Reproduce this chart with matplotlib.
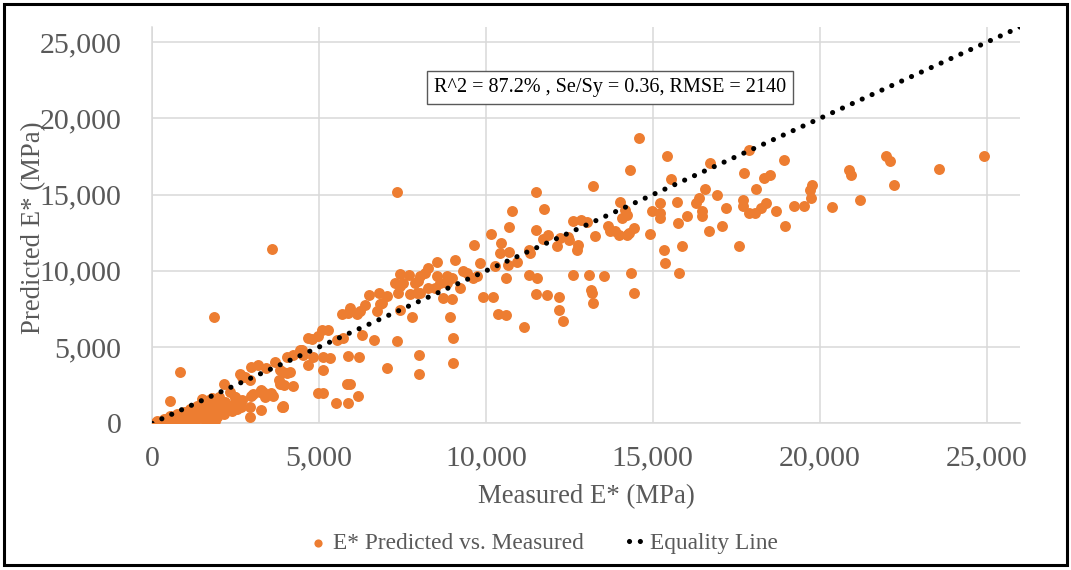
import matplotlib
matplotlib.use("Agg")
import matplotlib.pyplot as plt
from matplotlib.ticker import FuncFormatter
from matplotlib.patches import Rectangle

# Measured vs predicted dynamic modulus E* (MPa)
measured_low = [
    100, 200, 300, 400, 500, 600, 700, 800, 900, 1000, 1100, 1200, 1300, 1400,
    1500, 1600, 1700, 1800, 1900, 2000, 2100, 150, 350, 550, 750, 950, 1150,
    1350, 1550, 1450, 1250, 1050, 850, 650, 450, 1600, 1700, 1800, 1900, 1750,
    1650, 1850, 1950, 2050, 1550, 1450, 1350, 1250, 1150, 1050, 950, 850, 750,
    1700, 1600, 1500, 1800, 2000, 2100, 2150, 1950, 1900,
    530, 850, 1850,
    2240, 2390, 2190, 2400, 2550, 2930, 2930, 3280, 3330, 3630, 3880, 2980,
    2700, 2500, 2340, 2490, 2630, 2680, 3030, 3230, 3380, 3580, 3930, 2150,
    2630, 2780, 2930, 2710, 2960, 3180, 3410, 3680, 3830, 4030, 4230, 4030,
    4130, 3950, 4230, 3810, 3280, 3580, 3910, 3930, 3830,
]
predicted_low = [
    50, 80, 120, 150, 200, 250, 300, 350, 380, 450, 500, 600, 650, 700,
    800, 900, 1000, 1100, 1200, 1300, 1400, 180, 300, 450, 600, 750, 950,
    1150, 1350, 1050, 850, 650, 500, 380, 250, 200, 400, 300, 600, 700,
    500, 900, 800, 1000, 600, 400, 300, 200, 300, 150, 100, 150, 100,
    1500, 1300, 1600, 1650, 1700, 800, 600, 400, 150,
    1490, 3370, 6960,
    1050, 830, 1380, 1200, 950, 440, 1100, 875, 2040, 1820, 1100, 1820,
    1500, 1700, 2040, 1710, 1490, 1050, 1930, 2040, 1710, 1930, 1100, 2580,
    3250, 3030, 2850, 3060, 3720, 3810, 3610, 4030, 3500, 4380, 4490, 3280,
    3390, 2520, 2470, 2840, 2190, 1970, 1160, 3360, 2590,
]

measured_mid = [
    9650, 9080, 8550, 8280, 8180, 8030, 7980, 7880, 7430, 7710, 7280, 7430,
    7530, 7380, 7730, 7930, 8030, 8530, 8630, 8830, 8980, 8830, 8280, 8480,
    8730, 8980, 9330, 9430, 9730, 9230, 9630, 6510, 6810, 6880, 7030, 6830,
    6730, 6380, 5930, 5880, 5680, 6130, 6230, 5080, 5280, 4980, 4680, 5530,
    5730, 6280, 6650, 7330, 7800, 8930, 9030, 4430, 4530, 4830, 5130, 5330,
    4680, 5130, 5860, 6210, 7030, 8010, 8010, 9010, 5830, 5930, 4980, 5130,
    5510, 5860, 6180, 7430, 7330, 3600, 4500, 4800,
]
predicted_mid = [
    11700, 10730, 10550, 10220, 9890, 9670, 9340, 9230, 9780, 9710, 9230, 9010,
    9230, 8570, 8500, 8530, 8570, 9670, 9230, 9670, 9560, 9230, 8900, 8900,
    8240, 8130, 10000, 9890, 9670, 8900, 9560, 8390, 8570, 7910, 8350, 7800,
    7360, 7730, 7580, 7250, 7140, 7140, 7360, 6140, 6140, 5700, 5590, 5480,
    5590, 5810, 5480, 5420, 6980, 6980, 5590, 4820, 4490, 4380, 4380, 4270,
    3830, 3500, 4430, 4380, 3610, 4490, 3240, 3940, 2550, 2550, 1960, 1960,
    1360, 1300, 1800, 7400, 15200, 11430, 4810, 5500,
]

measured_high = [
    14320, 13200, 11490, 10790, 11750, 10700, 10140, 9820, 10440, 10420, 10690,
    10920, 10670, 10270, 10600, 11300, 11320, 11500, 11720, 11870, 12120, 12220,
    12470, 12500, 12620, 12850, 13020, 12770, 12740, 13270, 13670, 13720, 13870,
    14000, 14220, 14300, 14440, 14020, 14170, 14070, 14220, 11300, 11540, 12600,
    13100, 13550, 14350, 9920, 10220, 11500, 11820, 12190, 13150, 13190, 13200,
    14440, 10370, 10600, 12200, 12300, 11140,
    14600, 15420, 16700, 17880, 15550, 18930, 17730, 18320, 18520, 16550, 18080,
    16920, 19700, 19770, 19730, 20880, 20930, 22000, 22100, 22220, 23580, 24930,
    21220, 20380, 19530, 19220, 18680, 18400, 18230, 18050, 17880, 17700, 17700,
    17200, 16280, 16380, 16470, 16470, 16020, 15730, 15230, 15230, 15230, 14980,
    15770, 14920, 16680, 17060, 18960, 17580, 15330, 15380, 15870, 15780,
]
predicted_high = [
    16600, 15590, 15180, 13900, 14080, 12870, 12430, 10500, 11860, 11200, 11260,
    10550, 10400, 10290, 9520, 11400, 11140, 12650, 12060, 12370, 11600, 12150,
    12210, 12040, 13250, 13310, 13180, 11710, 11380, 12300, 12920, 12630, 12590,
    12370, 12370, 12480, 12810, 14520, 14020, 13460, 13680, 9700, 9520, 9740,
    9740, 9670, 9890, 8310, 8310, 8460, 8420, 8310, 8750, 8530, 7870,
    8570, 7170, 7130, 7430, 6730, 6340,
    18700, 17510, 17050, 17950, 16060, 17290, 16390, 16120, 16280, 15350, 15350,
    14980, 15310, 15620, 14760, 16630, 16300, 17560, 17230, 15640, 16670, 17560,
    14630, 14180, 14250, 14250, 13900, 14470, 14140, 13810, 13810, 14250, 14630,
    14140, 14470, 14800, 13920, 13630, 13630, 14520, 14470, 13810, 13440, 13900,
    13110, 12440, 12640, 12930, 12930, 11650, 11390, 10510, 11650, 9870,
]

measured = measured_low + measured_mid + measured_high
predicted = predicted_low + predicted_mid + predicted_high

equality = [0, 26000]
ticks = [0, 5000, 10000, 15000, 20000, 25000]
stats_text = "R^2 = 87.2% , Se/Sy = 0.36, RMSE = 2140"

orange = "#ED7D31"
grey = "#595959"
plt.rcParams["font.family"] = ["Liberation Serif", "DejaVu Serif"]

fig = plt.figure(figsize=(10.71, 5.70), dpi=100)
ax = fig.add_axes([0.1419, 0.2574, 0.8105, 0.6952])

ax.scatter(measured, predicted, s=62, color=orange, linewidths=0, zorder=3,
           label="E* Predicted vs. Measured")
ax.plot(equality, equality, color="black", lw=3.7, dashes=(0.01, 2.1),
        dash_capstyle="round", zorder=4, label="Equality Line")

ax.set_xlim(0, 26000)
ax.set_ylim(0, 26000)
ax.set_xticks(ticks)
ax.set_yticks(ticks)
fmt = FuncFormatter(lambda v, p: f"{int(v):,}")
ax.xaxis.set_major_formatter(fmt)
ax.yaxis.set_major_formatter(fmt)
ax.tick_params(length=0, labelsize=21.5, labelcolor=grey)
ax.tick_params(axis="x", pad=16)
ax.tick_params(axis="y", pad=22)
ax.grid(True, color="#D9D9D9", lw=1.1, zorder=0)
ax.set_axisbelow(True)
for side in ["top", "right"]:
    ax.spines[side].set_visible(False)
for side in ["left", "bottom"]:
    ax.spines[side].set_color("#D9D9D9")
    ax.spines[side].set_linewidth(1.1)

ax.text(0.5276, 0.8473, stats_text, transform=ax.transAxes, ha="center",
        va="center", fontsize=14.5, color="black", zorder=5,
        bbox=dict(boxstyle="square,pad=0.35", fc="white", ec=grey, lw=1.0))

fig.text(586 / 1071, 1 - 497 / 570, "Measured E* (MPa)", ha="center",
         va="center", fontsize=19.3, color=grey)
fig.text(34 / 1071, 1 - 228 / 570, "Predicted E* (MPa)", ha="center",
         va="center", rotation=90, fontsize=19.3, color=grey)

fig.legend(loc="center", bbox_to_anchor=(545 / 1071, 1 - 543 / 570), ncol=2,
           frameon=False, fontsize=16.8, labelcolor=grey, handlelength=0.5,
           handletextpad=0.4, columnspacing=1.9, markerscale=0.75)

fig.patches.append(Rectangle((0.0033, 0.0088), 0.9934, 0.984, transform=fig.transFigure,
                             fill=False, ec="black", lw=2.2))

fig.savefig("out.png", dpi=100)
